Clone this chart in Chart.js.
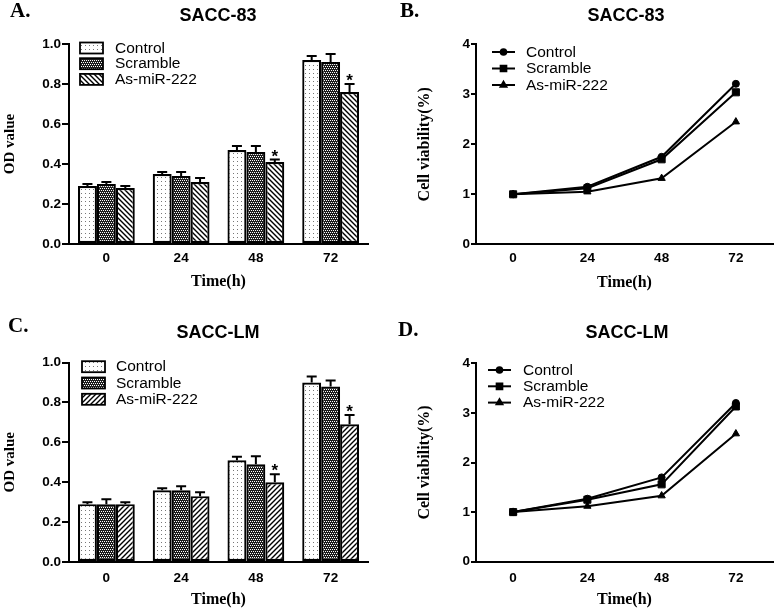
<!DOCTYPE html>
<html><head><meta charset="utf-8">
<script src="https://cdn.jsdelivr.net/npm/chart.js@4/dist/chart.umd.min.js"></script>
<style>
body{margin:0;background:#fff;width:779px;height:609px;position:relative;overflow:hidden}
canvas{position:absolute}
</style></head>
<body>
<canvas id="cA" width="389" height="305" style="left:0;top:0"></canvas>
<canvas id="cB" width="390" height="305" style="left:389px;top:0"></canvas>
<canvas id="cC" width="389" height="304" style="left:0;top:305px"></canvas>
<canvas id="cD" width="390" height="304" style="left:389px;top:305px"></canvas>
<script>
// ---------- DATA ----------
const timeLabels = ['0', '24', '48', '72'];
const seriesNames = ['Control', 'Scramble', 'As-miR-222'];
const odTickLabels = ['0.0', '0.2', '0.4', '0.6', '0.8', '1.0'];
const viabilityTickLabels = ['0', '1', '2', '3', '4'];

// Panel A: SACC-83 OD value
const aControl = [0.29, 0.35, 0.47, 0.92];
const aScramble = [0.30, 0.34, 0.46, 0.91];
const aAsmir = [0.28, 0.31, 0.41, 0.76];
const aControlErr = [0.01, 0.01, 0.02, 0.02];
const aScrambleErr = [0.01, 0.02, 0.03, 0.04];
const aAsmirErr = [0.01, 0.02, 0.012, 0.04];
const aSignificant = [false, false, true, true];

// Panel B: SACC-83 cell viability
const bControl = [1.0, 1.15, 1.75, 3.21];
const bScramble = [1.0, 1.12, 1.70, 3.04];
const bAsmir = [1.0, 1.05, 1.32, 2.45];

// Panel C: SACC-LM OD value
const cControl = [0.29, 0.36, 0.51, 0.90];
const cScramble = [0.29, 0.36, 0.49, 0.88];
const cAsmir = [0.29, 0.33, 0.40, 0.69];
const cControlErr = [0.01, 0.01, 0.017, 0.03];
const cScrambleErr = [0.025, 0.02, 0.04, 0.03];
const cAsmirErr = [0.01, 0.02, 0.04, 0.047];
const cSignificant = [false, false, true, true];

// Panel D: SACC-LM cell viability
const dControl = [1.0, 1.27, 1.70, 3.20];
const dScramble = [1.0, 1.25, 1.56, 3.13];
const dAsmir = [1.0, 1.12, 1.33, 2.58];

// ---------- STYLE ----------
const SANS = "'Liberation Sans', Arial, sans-serif";
const SERIF = "'Liberation Serif', 'Times New Roman', serif";

function makePattern(kind) {
  const c = document.createElement('canvas');
  const g = c.getContext('2d');
  if (kind === 'dots') {
    c.width = 4; c.height = 4;
    g.fillStyle = '#fff'; g.fillRect(0, 0, 4, 4);
    g.fillStyle = '#777'; g.fillRect(1, 1, 1, 1);
  } else if (kind === 'checker') {
    c.width = 4; c.height = 4;
    g.fillStyle = '#1c1c1c'; g.fillRect(0, 0, 4, 4);
    g.fillStyle = '#fff';
    g.fillRect(0, 0, 1, 1); g.fillRect(2, 0, 1, 1);
    g.fillRect(1, 2, 1, 1); g.fillRect(3, 2, 1, 1);
  } else {
    c.width = 5; c.height = 5;
    g.fillStyle = '#fff'; g.fillRect(0, 0, 5, 5);
    g.strokeStyle = '#000'; g.lineWidth = 1.4;
    g.beginPath();
    if (kind === 'back') {
      g.moveTo(-1, -1); g.lineTo(6, 6);
      g.moveTo(-1, 4); g.lineTo(1, 6);
      g.moveTo(4, -1); g.lineTo(6, 1);
    } else {
      g.moveTo(-1, 6); g.lineTo(6, -1);
      g.moveTo(-1, 1); g.lineTo(1, -1);
      g.moveTo(4, 6); g.lineTo(6, 4);
    }
    g.stroke();
  }
  return g.createPattern(c, 'repeat');
}

// error bars + significance asterisks
const errorBarPlugin = {
  id: 'errBars',
  afterDatasetsDraw(chart) {
    const ctx = chart.ctx, ys = chart.scales.y;
    chart.data.datasets.forEach((ds, i) => {
      if (!ds.errors) return;
      const meta = chart.getDatasetMeta(i);
      meta.data.forEach((bar, j) => {
        const top = ys.getPixelForValue(ds.data[j] + ds.errors[j]);
        ctx.save();
        ctx.strokeStyle = '#000'; ctx.lineWidth = 2;
        ctx.beginPath();
        ctx.moveTo(bar.x, bar.y); ctx.lineTo(bar.x, top);
        ctx.moveTo(bar.x - 5, top); ctx.lineTo(bar.x + 5, top);
        ctx.stroke();
        if (ds.significant && ds.significant[j]) {
          ctx.fillStyle = '#000';
          ctx.font = 'bold 17px ' + SANS;
          ctx.textAlign = 'center'; ctx.textBaseline = 'alphabetic';
          ctx.fillText('*', bar.x, top + 2);
        }
        ctx.restore();
      });
    });
  }
};

// panel letter, title and legend
const annotPlugin = {
  id: 'annot',
  afterDraw(chart, args, o) {
    const ctx = chart.ctx;
    ctx.save();
    ctx.fillStyle = '#000';
    ctx.font = 'bold 21px ' + SERIF;
    ctx.textAlign = 'left'; ctx.textBaseline = 'middle';
    ctx.fillText(o.letter, o.letterX, o.letterY);
    ctx.font = 'bold 18px ' + SANS;
    ctx.textAlign = 'center';
    ctx.fillText(o.title, o.titleX, o.titleY);
    // legend
    ctx.font = '15.5px ' + SANS;
    chart.data.datasets.forEach((ds, i) => {
      const y = o.legY + i * o.legStep;
      if (o.legType === 'bar') {
        ctx.fillStyle = ds.backgroundColor;
        ctx.fillRect(o.legX, y - 5.5, 23, 11);
        ctx.strokeStyle = '#000'; ctx.lineWidth = 1.8;
        ctx.strokeRect(o.legX, y - 5.5, 23, 11);
      } else {
        ctx.strokeStyle = '#000'; ctx.lineWidth = 2;
        ctx.beginPath(); ctx.moveTo(o.legX, y); ctx.lineTo(o.legX + 23, y); ctx.stroke();
        ctx.fillStyle = '#000';
        Chart.helpers.drawPoint(ctx, {pointStyle: ds.pointStyle, radius: ds.pointRadius * 0.8, rotation: 0, borderWidth: 1}, o.legX + 11.5, y);
      }
      ctx.fillStyle = '#000';
      ctx.textAlign = 'left'; ctx.textBaseline = 'middle';
      ctx.fillText(ds.label, o.textX, y + 0.5);
    });
    ctx.restore();
  }
};

function axisCommon(yWidth, xHeight, tickLen, xPad, xTitlePadB, yTitlePadT, yTitleSize) {
  return {
    x: {
      type: 'category', offset: true,
      grid: {display: true, drawOnChartArea: false, drawTicks: false, color: '#000'},
      border: {display: true, color: '#000', width: 2},
      ticks: {color: '#000', font: {family: SANS, size: 13.5, weight: 'bold'}, padding: xPad},
      title: {display: true, text: 'Time(h)', color: '#000', font: {family: SERIF, size: 16, weight: 'bold'}, padding: {top: 0, bottom: xTitlePadB}},
      afterFit: s => { s.height = xHeight; }
    },
    y: {
      grid: {display: true, drawOnChartArea: false, drawTicks: true, tickLength: tickLen, color: '#000', lineWidth: 2},
      border: {display: true, color: '#000', width: 2},
      ticks: {color: '#000', font: {family: SANS, size: 13.5, weight: 'bold'}, padding: 1},
      title: {display: true, color: '#000', font: {family: SERIF, size: yTitleSize, weight: 'bold'}, padding: {top: yTitlePadT, bottom: 0}},
      afterFit: s => { s.width = yWidth; }
    }
  };
}

function barChart(id, vals, errs, sig, hatch, annot, pad, yWidth, xHeight, xPad, xTitlePadB) {
  const pats = [makePattern('dots'), makePattern('checker'), makePattern(hatch)];
  const scales = axisCommon(yWidth, xHeight, 7, xPad, xTitlePadB, 1, 15);
  scales.y.min = 0; scales.y.max = 1.0;
  scales.y.ticks.stepSize = 0.2;
  scales.y.ticks.callback = (v, i) => odTickLabels[i];
  scales.y.title.text = 'OD value';
  return new Chart(document.getElementById(id), {
    type: 'bar',
    data: {
      labels: timeLabels,
      datasets: seriesNames.map((n, i) => ({
        label: n, data: vals[i], errors: errs[i], significant: i === 2 ? sig : null,
        backgroundColor: pats[i], borderColor: '#000', borderWidth: 2.2, borderSkipped: false,
        categoryPercentage: 0.76, barPercentage: 1.0
      }))
    },
    options: {
      responsive: false, animation: false, devicePixelRatio: 1,
      layout: {padding: pad},
      plugins: {legend: {display: false}, tooltip: {enabled: false}, annot: annot},
      scales: scales
    },
    plugins: [errorBarPlugin, annotPlugin]
  });
}

function lineChart(id, vals, annot, pad, yWidth, xHeight, xPad, xTitlePadB, yTitlePadT) {
  const styles = [{s: 'circle', r: 3.5}, {s: 'rect', r: 5}, {s: 'triangle', r: 4.2}];
  const scales = axisCommon(yWidth, xHeight, 5, xPad, xTitlePadB, yTitlePadT, 16);
  scales.y.min = 0; scales.y.max = 4;
  scales.y.ticks.stepSize = 1;
  scales.y.ticks.callback = (v, i) => viabilityTickLabels[i];
  scales.y.title.text = 'Cell viability(%)';
  return new Chart(document.getElementById(id), {
    type: 'line',
    data: {
      labels: timeLabels,
      datasets: seriesNames.map((n, i) => ({
        label: n, data: vals[i], borderColor: '#000', borderWidth: 2,
        pointStyle: styles[i].s, pointRadius: styles[i].r,
        pointBackgroundColor: '#000', pointBorderColor: '#000', pointBorderWidth: 1,
        fill: false, tension: 0
      }))
    },
    options: {
      responsive: false, animation: false, devicePixelRatio: 1,
      layout: {padding: pad},
      plugins: {legend: {display: false}, tooltip: {enabled: false}, annot: annot},
      scales: scales
    },
    plugins: [annotPlugin]
  });
}

barChart('cA', [aControl, aScramble, aAsmir], [aControlErr, aScrambleErr, aAsmirErr], aSignificant, 'back',
  {letter: 'A.', letterX: 10, letterY: 12, title: 'SACC-83', titleX: 218, titleY: 16, legType: 'bar', legX: 80, legY: 48, legStep: 15.7, textX: 115},
  {top: 44, right: 21, left: 0, bottom: 0}, 69, 61, 6, 13.4);

lineChart('cB', [bControl, bScramble, bAsmir],
  {letter: 'B.', letterX: 11, letterY: 12, title: 'SACC-83', titleX: 237, titleY: 16, legType: 'line', legX: 103, legY: 52, legStep: 16.5, textX: 137},
  {top: 44.3, right: 3, left: 0, bottom: 0}, 87, 60.7, 6, 13, 26);

barChart('cC', [cControl, cScramble, cAsmir], [cControlErr, cScrambleErr, cAsmirErr], cSignificant, 'fwd',
  {letter: 'C.', letterX: 8, letterY: 22, title: 'SACC-LM', titleX: 218, titleY: 28, legType: 'bar', legX: 82, legY: 61.7, legStep: 16.3, textX: 116},
  {top: 57.5, right: 21, left: 0, bottom: 0}, 69, 47, 8, 0);

lineChart('cD', [dControl, dScramble, dAsmir],
  {letter: 'D.', letterX: 9, letterY: 26, title: 'SACC-LM', titleX: 238, titleY: 28, legType: 'line', legX: 99, legY: 65, legStep: 16.3, textX: 134},
  {top: 58.3, right: 3, left: 0, bottom: 0}, 87, 47.3, 8, 0, 26);
</script>
</body></html>
